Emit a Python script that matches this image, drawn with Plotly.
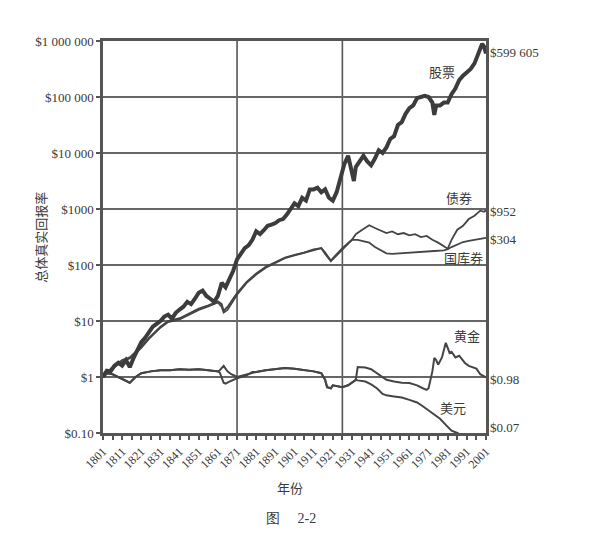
import plotly.graph_objects as go
import math

# ---------------- data ----------------
stock_years = [1801, 1803, 1805, 1807, 1809, 1811, 1813, 1815, 1817, 1819, 1821, 1823, 1825, 1827, 1829,
               1831, 1833, 1835, 1837, 1839, 1841, 1843, 1845, 1847, 1849, 1851, 1853, 1855, 1857, 1859,
               1861, 1863, 1865, 1867, 1869, 1871, 1873, 1875, 1877, 1879, 1881, 1883, 1885, 1887, 1889,
               1891, 1893, 1895, 1897, 1899, 1901, 1903, 1905, 1907, 1909, 1911, 1913, 1915, 1917, 1919,
               1921, 1923, 1925, 1927, 1929, 1931, 1932, 1933, 1935, 1937, 1939, 1941, 1943, 1945, 1947,
               1949, 1951, 1953, 1955, 1957, 1959, 1961, 1963, 1965, 1967, 1969, 1971, 1973, 1974, 1975,
               1977, 1979, 1981, 1983, 1985, 1987, 1989, 1991, 1993, 1995, 1997, 1999, 2000, 2001]
stock_values = [1.0, 1.3, 1.26, 1.6, 1.8, 1.6, 2.0, 1.5, 2.2, 3.2, 4.2, 5.0, 6.3, 7.9, 8.9,
                10, 12, 13, 11, 14, 16, 18, 22, 20, 25, 32, 35, 28, 25, 22,
                28, 48, 40, 56, 79, 126, 158, 200, 224, 282, 398, 355, 417, 501, 525,
                562, 631, 661, 794, 1000, 1259, 1122, 1585, 1413, 2239, 2239, 2399, 1995, 2239, 1585,
                1413, 1995, 3548, 6310, 8913, 3981, 3162, 5623, 7079, 8913, 7079, 6026, 7943, 11220, 10000,
                12589, 17783, 19953, 31623, 35481, 50119, 63096, 70795, 95499, 100000, 104713, 100000, 79433, 47863, 70795,
                70795, 79433, 79433, 112202, 141254, 199526, 239883, 281838, 316228, 398107, 630957, 891251, 794328, 599605]

bond_years = [1801, 1805, 1811, 1815, 1821, 1825, 1831, 1835, 1841, 1846, 1851, 1856, 1861, 1863, 1864,
              1866, 1871, 1876, 1881, 1886, 1891, 1896, 1901, 1906, 1911, 1915, 1917, 1920, 1921, 1926,
              1931, 1933, 1936, 1940, 1943, 1946, 1949, 1952, 1955, 1958, 1961, 1964, 1967, 1970, 1973,
              1976, 1979, 1981, 1983, 1986, 1989, 1992, 1995, 1998, 2000, 2001]
bond_values = [1.0, 1.41, 2.0, 2.24, 3.55, 5.0, 7.9, 10, 11.2, 13.8, 16.6, 19.1, 22.4, 20, 15.1,
               17.8, 31.6, 50.1, 70.8, 93.3, 112, 135, 151, 166, 191, 200, 158, 117, 132, 200,
               282, 355, 417, 513, 457, 417, 372, 398, 355, 372, 339, 355, 316, 331, 282,
               251, 214, 195, 282, 427, 501, 661, 759, 933, 891, 952]

bill_years = [1801, 1805, 1811, 1815, 1821, 1825, 1831, 1835, 1841, 1846, 1851, 1856, 1861, 1863, 1864,
              1866, 1871, 1876, 1881, 1886, 1891, 1896, 1901, 1906, 1911, 1915, 1917, 1920, 1921, 1926,
              1931, 1934, 1937, 1940, 1943, 1946, 1949, 1952, 1956, 1961, 1966, 1970, 1974, 1979, 1981,
              1983, 1986, 1989, 1992, 1995, 1998, 2001]
bill_values = [1.0, 1.32, 1.91, 2.14, 3.31, 4.79, 7.59, 9.55, 10.7, 13.2, 15.8, 18.2, 21.4, 17.8, 14.1,
               15.8, 29.5, 47.9, 67.6, 89.1, 110, 132, 148, 166, 186, 200, 166, 120, 126, 191,
               282, 282, 269, 251, 209, 186, 162, 158, 162, 166, 174, 178, 178, 182, 191,
               209, 234, 257, 269, 282, 295, 304]

gold_years = [1801, 1803, 1806, 1809, 1812, 1815, 1818, 1821, 1826, 1831, 1836, 1841, 1846, 1851, 1856,
              1861, 1862, 1864, 1866, 1868, 1871, 1876, 1881, 1886, 1891, 1896, 1901, 1906, 1911, 1915,
              1917, 1918, 1920, 1921, 1924, 1926, 1929, 1931, 1933, 1934, 1938, 1941, 1944, 1947, 1949,
              1953, 1957, 1961, 1965, 1968, 1970, 1971, 1973, 1974, 1975, 1976, 1978, 1980, 1981, 1982,
              1983, 1985, 1987, 1988, 1990, 1992, 1994, 1996, 1998, 2001]
gold_values = [1.0, 1.17, 1.12, 1.0, 0.89, 0.79, 1.0, 1.17, 1.26, 1.32, 1.32, 1.38, 1.35, 1.38, 1.32,
               1.26, 1.32, 1.58, 1.26, 1.12, 1.0, 1.12, 1.23, 1.32, 1.38, 1.45, 1.41, 1.35, 1.26, 1.17,
               0.89, 0.66, 0.63, 0.71, 0.68, 0.66, 0.71, 0.79, 0.89, 1.51, 1.48, 1.38, 1.17, 1.0, 0.89,
               0.83, 0.79, 0.78, 0.71, 0.63, 0.59, 0.63, 1.26, 2.19, 2.0, 1.66, 2.24, 4.07, 3.16, 2.69,
               2.82, 2.24, 2.4, 2.14, 1.78, 1.58, 1.51, 1.41, 1.12, 0.98]

dollar_years = [1801, 1803, 1806, 1809, 1812, 1815, 1818, 1821, 1826, 1831, 1836, 1841, 1846, 1851, 1856,
                1861, 1862, 1864, 1865, 1867, 1871, 1876, 1879, 1881, 1886, 1891, 1896, 1901, 1906, 1911,
                1915, 1917, 1918, 1920, 1921, 1924, 1926, 1929, 1931, 1933, 1934, 1938, 1941, 1944, 1947,
                1949, 1953, 1957, 1961, 1965, 1968, 1971, 1974, 1977, 1980, 1983, 1986, 1989, 1992, 1995,
                1998, 2001]
dollar_values = [1.0, 1.17, 1.12, 1.0, 0.89, 0.79, 1.0, 1.17, 1.26, 1.32, 1.32, 1.38, 1.35, 1.38, 1.32,
                 1.26, 1.2, 0.79, 0.76, 0.83, 0.95, 1.07, 1.23, 1.23, 1.32, 1.38, 1.45, 1.41, 1.35, 1.26,
                 1.17, 0.89, 0.66, 0.63, 0.71, 0.68, 0.66, 0.71, 0.79, 0.89, 0.87, 0.83, 0.74, 0.63, 0.5,
                 0.47, 0.45, 0.43, 0.39, 0.35, 0.30, 0.25, 0.21, 0.18, 0.14, 0.11, 0.10, 0.089, 0.083, 0.079,
                 0.074, 0.07]

y_tickvals = [0.1, 1, 10, 100, 1000, 10000, 100000, 1000000]
y_ticktext = ["$0.10", "$1", "$10", "$100", "$1000", "$10 000", "$100 000", "$1 000 000"]
x_tickvals = list(range(1801, 2002, 10))
x_ticktext = [str(v) for v in x_tickvals]
period_breaks = [1871, 1926]

series_names = ["股票", "债券", "国库券", "黄金", "美元"]
end_labels = ["$599 605", "$952", "$304", "$0.98", "$0.07"]

# ---------------- figure ----------------
LINE = "#454545"
TEXT = "#3a3a3a"
SERIF = "Liberation Serif, Times New Roman, serif"
CJK = "Noto Sans CJK SC, sans-serif"

fig = go.Figure()
fig.add_trace(go.Scatter(x=dollar_years, y=dollar_values, mode="lines",
                         line=dict(color=LINE, width=2), showlegend=False))
fig.add_trace(go.Scatter(x=gold_years, y=gold_values, mode="lines",
                         line=dict(color=LINE, width=2), showlegend=False))
fig.add_trace(go.Scatter(x=bill_years, y=bill_values, mode="lines",
                         line=dict(color=LINE, width=1.8), showlegend=False))
fig.add_trace(go.Scatter(x=bond_years, y=bond_values, mode="lines",
                         line=dict(color=LINE, width=1.8), showlegend=False))
fig.add_trace(go.Scatter(x=stock_years, y=stock_values, mode="lines",
                         line=dict(color="#3c3c3c", width=4), showlegend=False))

for yr in period_breaks:
    fig.add_shape(type="line", xref="x", yref="paper", x0=yr, x1=yr, y0=0, y1=1,
                  line=dict(color="#555", width=1.6), layer="below")

# series name labels (data coordinates; log axis -> annotation y given as log10)
name_pos = [(1978, 280000), (1987, 1620), (1989, 135), (1991, 5.4), (1984, 0.28)]
for name, (xx, yy) in zip(series_names, name_pos):
    fig.add_annotation(x=xx, y=math.log10(yy), xref="x", yref="y", text=name, showarrow=False,
                       font=dict(family=CJK, size=13, color=TEXT))

# end-value labels just right of the plot area
end_pos = [617000, 890, 282, 0.89, 0.123]
for lab, yy in zip(end_labels, end_pos):
    fig.add_annotation(x=1.006, y=math.log10(yy), xref="paper", yref="y", text=lab, showarrow=False,
                       xanchor="left", yanchor="middle", font=dict(family=SERIF, size=13, color=TEXT))

# y title (vertical), x title, caption
fig.add_annotation(x=-0.165, y=0.5, xref="paper", yref="paper", text="总体真实回报率",
                   textangle=-90, showarrow=False, xanchor="center", yanchor="middle",
                   font=dict(family=CJK, size=13, color=TEXT))
fig.add_annotation(x=0.488, y=-0.138, xref="paper", yref="paper", text="年份", showarrow=False,
                   font=dict(family=CJK, size=13, color=TEXT), xanchor="center", yanchor="middle")
fig.add_annotation(x=0.49, y=-0.218, xref="paper", yref="paper", text="图　 2-2", showarrow=False,
                   font=dict(family=SERIF, size=14, color=TEXT), xanchor="center", yanchor="middle")

fig.update_xaxes(range=[1801, 2001], tickvals=x_tickvals, ticktext=x_ticktext, tickangle=-45,
                 ticks="outside", ticklen=4, tickwidth=1.5, tickcolor="#555",
                 minor=dict(dtick=5, tick0=1801, ticks="outside", ticklen=4, tickwidth=1.5, tickcolor="#555"),
                 showgrid=False, showline=True, linecolor="#555", linewidth=2.5, mirror=True,
                 tickfont=dict(family=SERIF, size=12, color=TEXT), zeroline=False)
fig.update_yaxes(type="log", range=[-1, 6], tickvals=y_tickvals, ticktext=y_ticktext,
                 ticks="outside", ticklen=4, tickwidth=1.5, tickcolor="#555",
                 showgrid=True, gridcolor="#666", gridwidth=1.5,
                 showline=True, linecolor="#555", linewidth=2.5, mirror=True,
                 tickfont=dict(family=SERIF, size=13, color=TEXT), zeroline=False)

# the page body adds an 8px offset, so margins are shifted to land the plot area at the reference spot
fig.update_layout(width=589, height=541, margin=dict(l=95, r=111, t=33, b=116),
                  paper_bgcolor="white", plot_bgcolor="white")

fig.write_html("out.html")
